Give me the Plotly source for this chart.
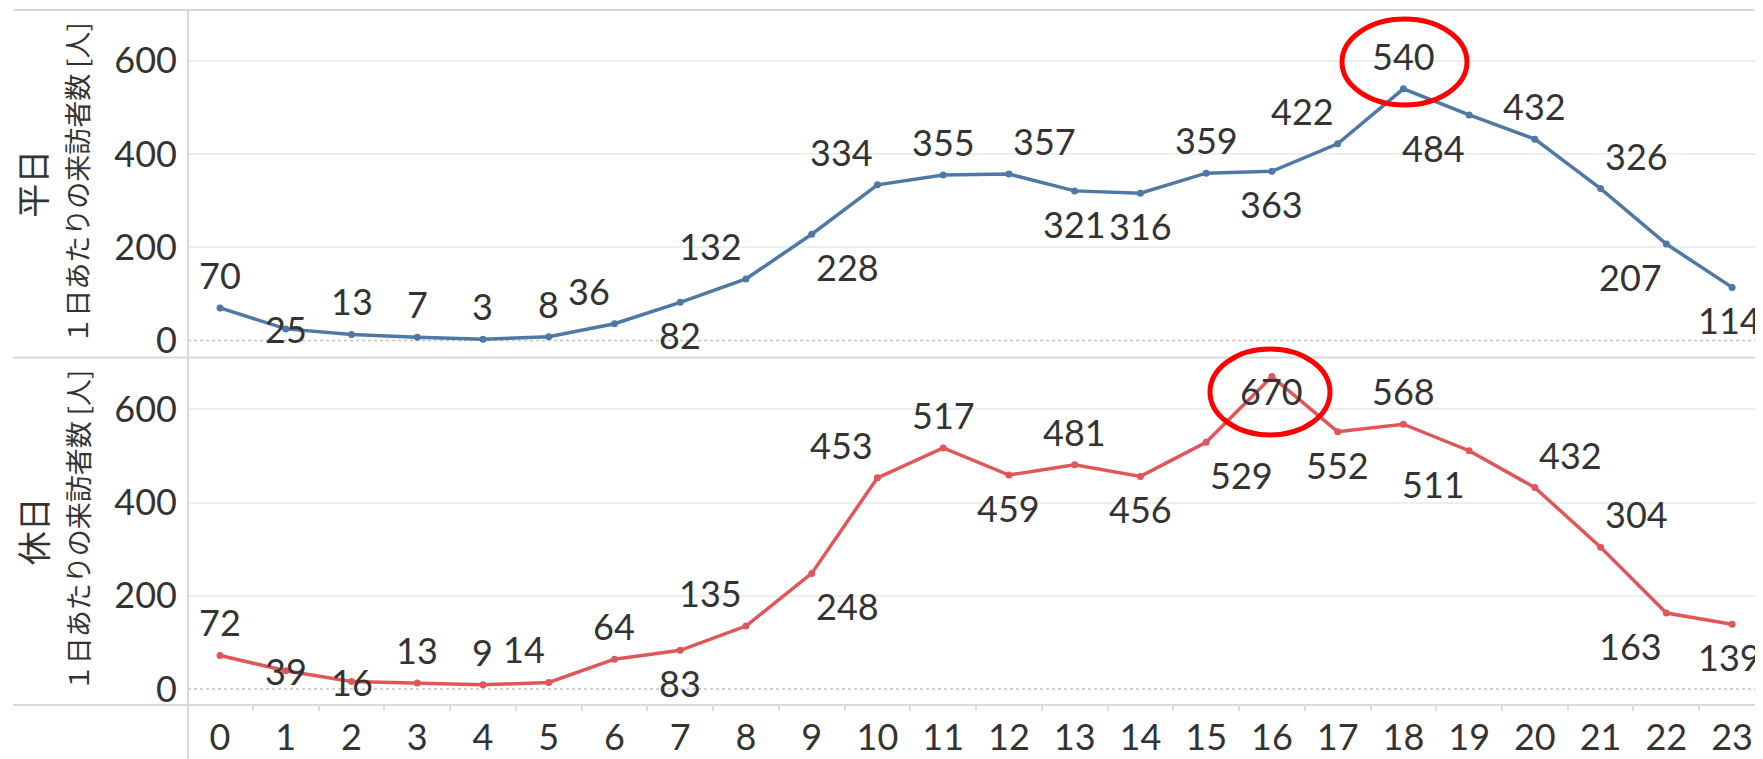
import plotly.graph_objects as go

hours = list(range(24))
weekday = [70, 25, 13, 7, 3, 8, 36, 82, 132, 228, 334, 355, 357, 321, 316, 359, 363, 422, 540, 484, 432, 326, 207, 114]
holiday = [72, 39, 16, 13, 9, 14, 64, 83, 135, 248, 453, 517, 459, 481, 456, 529, 670, 552, 568, 511, 432, 304, 163, 139]
y_ticks = [0, 200, 400, 600]
row_labels = ["平日", "休日"]
axis_title = "１日あたりの来訪者数 [人]"

# label placement (style only)
weekday_pos = ["t", "c", "t", "t", "t", "t", "tl", "b", "tl", "br", "tl", "t", "tr", "b", "b", "t", "b", "tl", "t", "bl", "t", "tr", "bl", "be"]
holiday_pos = ["t", "c", "c", "t", "t", "tl", "t", "b", "tl", "br", "tl", "t", "b", "t", "b", "br", "cb", "b", "t", "bl", "tr", "tr", "bl", "be"]

BLUE = "#4e79a7"
RED = "#e15759"
TXT = "#333333"
NUMFONT = "Lato, 'Noto Sans CJK JP', sans-serif"
JPFONT = "'Noto Sans CJK JP', sans-serif"

# page body has an 8px margin: the figure is drawn at (8, 8)
OFF = 8
W, H = 1763 - OFF, 759 - OFF
PLOT_L, PLOT_R, PLOT_T, PLOT_B = 188, 1763, 10, 705   # in window pixels
L, T = PLOT_L - OFF, PLOT_T - OFF
R = (1763 - OFF) - (PLOT_R - OFF)
B = H - (PLOT_B - OFF)
PW, PH = PLOT_R - PLOT_L, PLOT_B - PLOT_T

def px_x(p):
    return (p - PLOT_L) / PW

def px_y(p):
    return (PLOT_B - p) / PH

fig = go.Figure()
fig.add_trace(go.Scatter(x=hours, y=weekday, mode="lines+markers", xaxis="x", yaxis="y",
                         line=dict(color=BLUE, width=3.5), marker=dict(size=7, color=BLUE),
                         showlegend=False, hoverinfo="skip"))
fig.add_trace(go.Scatter(x=hours, y=holiday, mode="lines+markers", xaxis="x2", yaxis="y2",
                         line=dict(color=RED, width=3.5), marker=dict(size=7, color=RED),
                         showlegend=False, hoverinfo="skip"))

placement = {
    "t": ("center", 0, 33),
    "b": ("center", 0, -33),
    "be": ("right", 31, -33),
    "c": ("center", 0, 0),
    "cb": ("center", 0, -14),
    "tl": ("right", -2, 33),
    "tr": ("left", 2, 33),
    "bl": ("right", -2, -33),
    "br": ("left", 2, -33),
}

annotations = []
for xs, ys, poss, xr, yr in [(hours, weekday, weekday_pos, "x", "y"), (hours, holiday, holiday_pos, "x2", "y2")]:
    for xv, yv, p in zip(xs, ys, poss):
        xa, dx, dy = placement[p]
        annotations.append(dict(x=xv, y=yv, xref=xr, yref=yr, text=str(yv), showarrow=False,
                                xanchor=xa, yanchor="middle", xshift=dx, yshift=dy,
                                font=dict(family=NUMFONT, size=36, color=TXT)))

for lab, yc in zip(row_labels, [0.75, 0.25]):
    annotations.append(dict(x=px_x(32), y=yc, xref="paper", yref="paper", text=lab, showarrow=False,
                            textangle=-90, xanchor="center", yanchor="middle",
                            font=dict(family=JPFONT, size=34, color=TXT)))
    annotations.append(dict(x=px_x(77), y=yc, xref="paper", yref="paper", text=axis_title, showarrow=False,
                            textangle=-90, xanchor="center", yanchor="middle",
                            font=dict(family=JPFONT, size=27, color=TXT)))

shapes = []
SEP = "#d9d9d9"
for yp in [1.0, 0.5, 0.0]:
    shapes.append(dict(type="line", xref="paper", yref="paper", x0=px_x(13), x1=1, y0=yp, y1=yp,
                       line=dict(color=SEP, width=2), layer="above"))
shapes.append(dict(type="line", xref="paper", yref="paper", x0=0, x1=0, y0=px_y(759), y1=1,
                   line=dict(color=SEP, width=2), layer="above"))
for yr in ["y", "y2"]:
    shapes.append(dict(type="line", xref="paper", yref=yr, x0=0, x1=1, y0=0, y1=0,
                       line=dict(color="#c4c4c4", width=1.5, dash="dot"), layer="below"))
# highlight ellipses
shapes.append(dict(type="circle", xref="paper", yref="paper",
                   x0=px_x(1342), x1=px_x(1467), y0=px_y(105), y1=px_y(19),
                   line=dict(color="#ff0000", width=5)))
shapes.append(dict(type="circle", xref="paper", yref="paper",
                   x0=px_x(1210), x1=px_x(1330), y0=px_y(435), y1=px_y(349),
                   line=dict(color="#ff0000", width=5)))

xr = [-0.487, 23.47]
yaxis_common = dict(tickvals=y_ticks, showgrid=True, gridcolor="#eeeeee", gridwidth=1.5,
                    zeroline=True, zerolinecolor="rgba(0,0,0,0)", showline=False, ticks="",
                    ticklabelstandoff=10,
                    tickfont=dict(family=NUMFONT, size=36, color=TXT))

fig.update_layout(
    width=W, height=H,
    margin=dict(l=L, r=R, t=T, b=B, autoexpand=False),
    plot_bgcolor="white", paper_bgcolor="white",
    xaxis=dict(domain=[0, 1], range=xr, anchor="y", showticklabels=False, showgrid=False,
               zeroline=False, showline=False, ticks="", matches="x2"),
    xaxis2=dict(domain=[0, 1], range=xr, anchor="y2", tickvals=hours, showgrid=False,
                zeroline=False, showline=False, ticks="", ticklabelstandoff=8,
                tickfont=dict(family=NUMFONT, size=36, color=TXT),
                minor=dict(ticks="outside", tick0=0.5, dtick=1, ticklen=5, tickcolor="#dddddd",
                           tickwidth=1.5, showgrid=False)),
    yaxis=dict(domain=[0.5, 1], range=[-36.4, 709], anchor="x", **yaxis_common),
    yaxis2=dict(domain=[0, 0.5], range=[-34.3, 711], anchor="x2", **yaxis_common),
    annotations=annotations,
    shapes=shapes,
)

fig.write_html("out.html")
